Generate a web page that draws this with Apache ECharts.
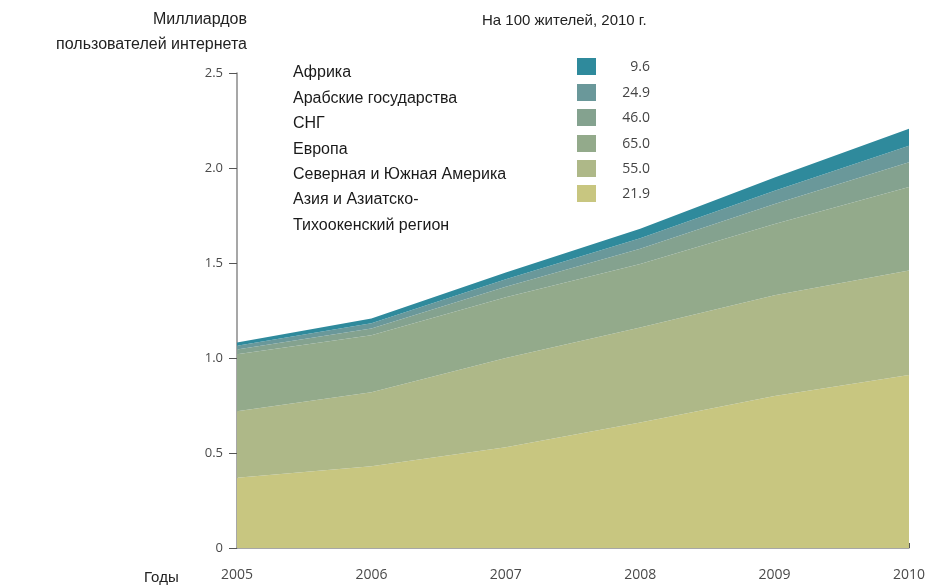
<!DOCTYPE html>
<html>
<head>
<meta charset="utf-8">
<script src="https://cdn.jsdelivr.net/npm/echarts@6/dist/echarts.min.js"></script>
<style>html,body{margin:0;padding:0;background:#fff}#c{width:934px;height:585px}</style>
</head>
<body>
<div id="c"></div>
<script>
var years = ['2005', '2006', '2007', '2008', '2009', '2010'];
var asia = [0.37, 0.43, 0.53, 0.66, 0.80, 0.91];
var americas = [0.35, 0.39, 0.47, 0.50, 0.53, 0.55];
var europe = [0.30, 0.30, 0.32, 0.335, 0.375, 0.44];
var cis = [0.025, 0.035, 0.055, 0.08, 0.105, 0.13];
var arab = [0.02, 0.028, 0.04, 0.055, 0.07, 0.087];
var africa = [0.017, 0.025, 0.035, 0.05, 0.07, 0.09];
var legendNames = ['Африка', 'Арабские государства', 'СНГ', 'Европа', 'Северная и Южная Америка', 'Азия и Азиатско-\nТихоокенский регион'];
var per100 = ['9.6', '24.9', '46.0', '65.0', '55.0', '21.9'];
var colors = ['#2f8a9c', '#6a989a', '#84a28f', '#93aa8b', '#aeb888', '#c8c680'];
var titleLines = ['Миллиардов', 'пользователей интернета'];

var seriesData = [asia, americas, europe, cis, arab, africa];
var seriesNames = legendNames.slice().reverse();
var seriesColors = colors.slice().reverse();

var chart = echarts.init(document.getElementById('c'));
var series = seriesData.map(function (d, i) {
  return {
    name: seriesNames[i], type: 'line', stack: 'total', data: d,
    symbol: 'none', smooth: false,
    lineStyle: { width: 0 },
    areaStyle: { color: seriesColors[i], opacity: 1 },
    itemStyle: { color: seriesColors[i] }
  };
});

var font16 = '16px "Liberation Sans", Arial, sans-serif';
var graphics = [];
titleLines.forEach(function (t, k) {
  graphics.push({ type: 'text', x: 247, y: 20 + k * 25, style: { text: t, font: font16, fill: '#222', align: 'right', verticalAlign: 'middle' } });
});
graphics.push({ type: 'text', x: 144, y: 578, style: { text: 'Годы', font: '15px "Liberation Sans", Arial, sans-serif', fill: '#222', verticalAlign: 'middle' } });
graphics.push({ type: 'text', x: 482, y: 21, style: { text: 'На 100 жителей, 2010 г.', font: '15px "Liberation Sans", Arial, sans-serif', fill: '#222', verticalAlign: 'middle' } });
var rowY = [70, 96, 121, 147, 172, 197];
for (var i = 0; i < legendNames.length; i++) {
  graphics.push({ type: 'text', left: 293, top: rowY[i] - 10, style: { text: legendNames[i], font: font16, fill: '#1a1a1a', lineHeight: 26 } });
  graphics.push({ type: 'rect', shape: { x: 577, y: rowY[i] - 12, width: 19, height: 17 }, style: { fill: colors[i] } });
  graphics.push({ type: 'text', x: 650, y: rowY[i] - 3, style: { text: per100[i], font: '14px "Open Sans", "Noto Sans", sans-serif', fill: '#444', align: 'right', verticalAlign: 'middle' } });
}

chart.setOption({
  animation: false,
  grid: { left: 237, right: 25, top: 73, bottom: 37 },
  xAxis: {
    type: 'category', data: years, boundaryGap: false,
    axisLine: { lineStyle: { color: '#8a8a8a', width: 1.5 } },
    axisTick: { inside: true, length: 5, lineStyle: { color: '#555' } },
    axisLabel: { color: '#4a4a4a', fontFamily: '"Open Sans", "Noto Sans", sans-serif', fontSize: 14, margin: 20 },
    splitLine: { show: false }
  },
  yAxis: {
    type: 'value', min: 0, max: 2.5, interval: 0.5,
    axisLine: { show: true, lineStyle: { color: '#8a8a8a', width: 1.5 } },
    axisTick: { show: true, length: 8, lineStyle: { color: '#555' } },
    axisLabel: { color: '#4a4a4a', fontFamily: '"Open Sans", "Noto Sans", sans-serif', fontSize: 13, margin: 14,
      formatter: function (v) { return v === 0 ? '0' : v.toFixed(1); } },
    splitLine: { show: false }
  },
  series: series,
  graphic: graphics
});
</script>
</body>
</html>
